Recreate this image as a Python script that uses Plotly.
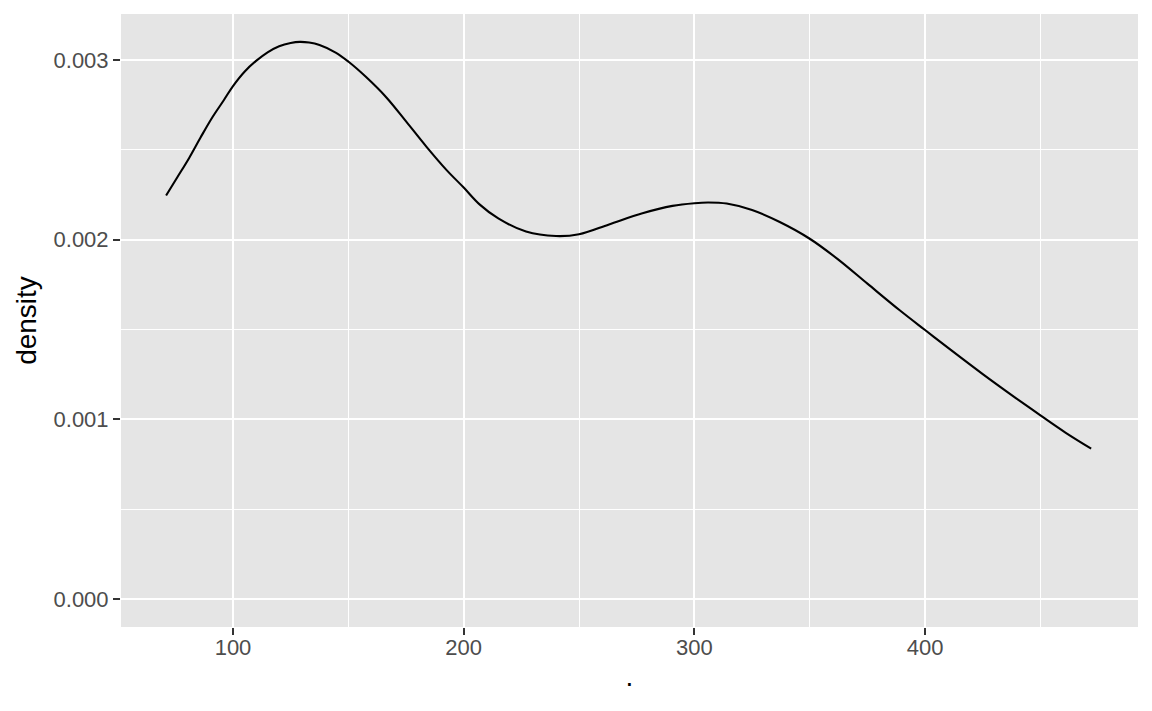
import plotly.graph_objects as go

# density curve
density_x = [71.0, 76.0, 81.0, 86.0, 91.0, 96.0, 100.0, 105.0, 110.0, 115.0,
             120.0, 125.0, 129.0, 133.0, 137.5, 144.7, 150.1, 157.7, 166.4, 175.1,
             183.8, 192.4, 200.0, 207.0, 215.0, 227.0, 240.0, 250.0, 263.0, 277.5,
             290.5, 300.0, 306.0, 314.0, 325.0, 337.0, 350.0, 362.0, 375.0, 389.0,
             400.0, 411.0, 425.0, 439.5, 450.0, 461.0, 472.0]
density_y = [0.002246, 0.002350, 0.002455, 0.002570, 0.002680, 0.002776, 0.002855,
             0.002935, 0.002995, 0.003043, 0.003077, 0.003095, 0.003101, 0.003097,
             0.003083, 0.003040, 0.002990, 0.002905, 0.002793, 0.002657, 0.002518,
             0.002390, 0.002290, 0.002195, 0.002118, 0.002045, 0.002020, 0.002030,
             0.002085, 0.002147, 0.002188, 0.002203, 0.002207, 0.002201, 0.002165,
             0.002098, 0.002005, 0.001893, 0.001755, 0.001607, 0.001497, 0.001388,
             0.001252, 0.001117, 0.001022, 0.000925, 0.000837]

x_ticks = [100, 200, 300, 400]
x_minor = [50, 150, 250, 350, 450]
y_ticks = [0.000, 0.001, 0.002, 0.003]
y_minor = [0.0005, 0.0015, 0.0025]
y_ticklabels = ["0.000", "0.001", "0.002", "0.003"]

FONT = "Liberation Sans, Arial, Helvetica, sans-serif"

fig = go.Figure()
fig.add_trace(go.Scatter(
    x=density_x, y=density_y, mode="lines",
    line=dict(color="black", width=2.1, shape="spline", smoothing=1.0),
    hoverinfo="skip", showlegend=False,
))

axis_common = dict(
    showline=False, zeroline=False,
    showgrid=True, gridcolor="white", gridwidth=2.4,
    ticks="outside", ticklen=7, tickwidth=2, tickcolor="#333333",
    tickfont=dict(family=FONT, size=22, color="#4D4D4D"),
)

# the page body has an 8px margin, so the figure is sized/offset to compensate
fig.update_layout(
    width=1144, height=703,
    margin=dict(l=113, r=14, t=6, b=84),
    paper_bgcolor="white", plot_bgcolor="#E5E5E5",
    font=dict(family=FONT),
    xaxis=dict(
        **axis_common,
        range=[51.45, 492.3],
        tickvals=x_ticks, ticktext=[str(v) for v in x_ticks],
        ticklabelstandoff=-6,
        minor=dict(showgrid=True, gridcolor="white", gridwidth=1.2,
                   tickvals=x_minor, ticks=""),
        title=dict(text=".", font=dict(family=FONT, size=28, color="black"), standoff=6),
    ),
    yaxis=dict(
        **axis_common,
        range=[-0.000156, 0.003256],
        tickvals=y_ticks, ticktext=y_ticklabels,
        minor=dict(showgrid=True, gridcolor="white", gridwidth=1.2,
                   tickvals=y_minor, ticks=""),
        title=dict(text="density", font=dict(family=FONT, size=28, color="black"), standoff=8),
    ),
)

fig.write_html("out.html")
